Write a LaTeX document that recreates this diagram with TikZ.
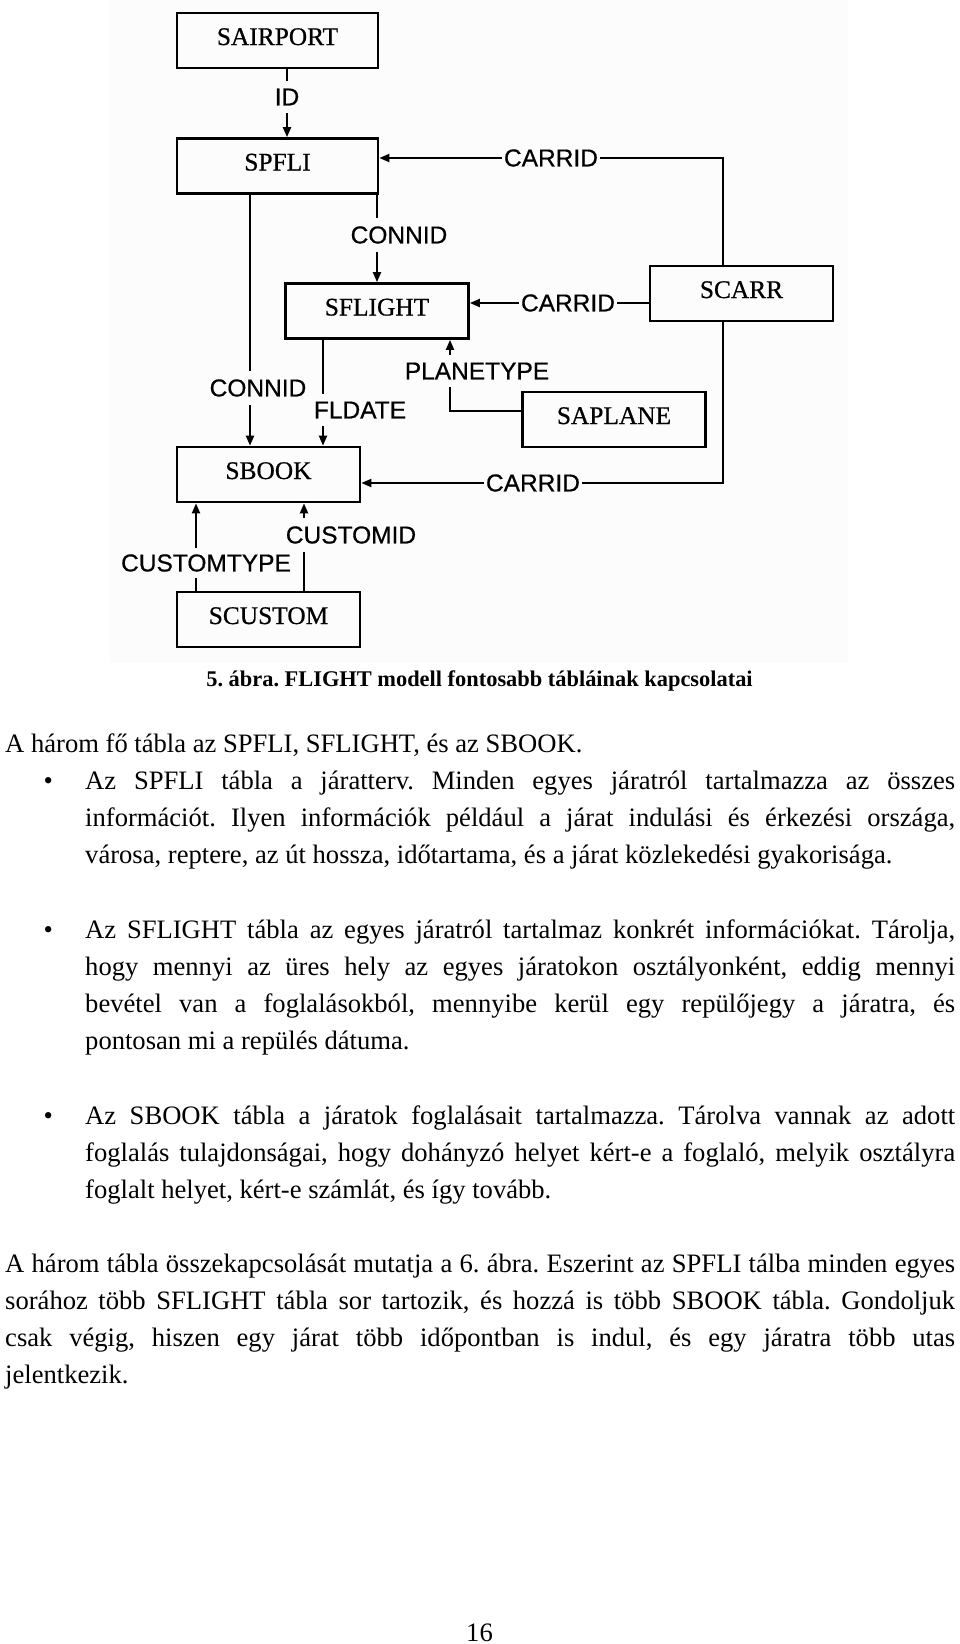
\documentclass[tikz,border=0pt]{standalone}
\usepackage{fontspec}
\setmainfont{Liberation Serif}
\newfontfamily\arialf[FakeBold=0.6]{Liberation Sans}
\newfontfamily\boxf[FakeBold=0.6]{Liberation Serif}
\usetikzlibrary{arrows.meta}
\pgfdeclarelayer{back}
\pgfdeclarelayer{lines}
\pgfsetlayers{back,lines,main}
\definecolor{figbg}{gray}{0.99}
\begin{document}
\frenchspacing
\begin{tikzpicture}[x=1pt,y=-1pt,
 tbl/.style={draw, line width=2.7pt, minimum width=183pt, minimum height=55pt, inner sep=0pt,
   font=\boxf\fontsize{25.4}{30}\selectfont, text height=17pt, text depth=8pt},
 widetbl/.style={tbl, minimum width=201pt},
 lbl/.style={fill=figbg, inner xsep=2pt, inner ysep=8pt, font=\arialf\fontsize{24.5}{29}\selectfont},
 conn/.style={line width=2pt, -{Triangle[length=10pt,width=8pt]}},
 body/.style={anchor=base west, inner sep=0pt, font=\fontsize{26.6}{32}\selectfont},
 bul/.style={anchor=base west, inner sep=0pt, font=\fontsize{26.6}{32}\selectfont},
]
\useasboundingbox (0,0) rectangle (960,1644);
\begin{pgfonlayer}{back}
\fill[white] (0,0) rectangle (960,1644);
\fill[figbg] (110,0) rectangle (848,663);
\end{pgfonlayer}

% tables
\node[widetbl] (sairport) at (277.5,40.5) {SAIRPORT};
\node[widetbl] (spfli) at (277.5,166) {SPFLI};
\node[tbl] (sflight) at (377,311) {SFLIGHT};
\node[tbl] (scarr) at (741.5,293.5) {SCARR};
\node[tbl] (saplane) at (614,419.5) {SAPLANE};
\node[tbl] (sbook) at (268.5,474.5) {SBOOK};
\node[tbl] (scustom) at (268.5,619.5) {SCUSTOM};

% labels
\node[lbl] (id) at (287,97) {ID};
\node[lbl] (carr1) at (551,158) {CARRID};
\node[lbl] (conn1) at (399,235) {CONNID};
\node[lbl] (carr2) at (568,303) {CARRID};
\node[lbl] (conn2) at (258,388) {CONNID};
\node[lbl] (fld) at (360,410) {FLDATE};
\node[lbl] (plt) at (477,371) {PLANETYPE};
\node[lbl] (carr3) at (533,483) {CARRID};
\node[lbl] (cid) at (351,535) {CUSTOMID};
\node[lbl, inner ysep=6pt] (ctype) at (206,563) {CUSTOMTYPE};

\coordinate (xa) at (250,0);
\coordinate (xf) at (323,0);
\coordinate (xp) at (450,411);
\coordinate (xc) at (723,0);
\coordinate (xt) at (196,0);
\coordinate (xi) at (304,0);

\begin{pgfonlayer}{lines}
\draw[conn] (sairport.south -| id) -- (spfli.north -| id);
\draw[conn] (scarr.north -| xc) |- (spfli.east |- carr1);
\draw[conn] (spfli.south -| sflight.north) -- (sflight.north);
\draw[conn] (scarr.west |- carr2) -- (sflight.east |- carr2);
\draw[conn] (spfli.south -| xa) -- (sbook.north -| xa);
\draw[conn] (sflight.south -| xf) -- (sbook.north -| xf);
\draw[conn] (saplane.west |- xp) -- (xp) -- (sflight.south -| xp);
\draw[conn] (scarr.south -| xc) |- (sbook.east |- carr3);
\draw[conn] (scustom.north -| xt) -- (sbook.south -| xt);
\draw[conn] (scustom.north -| xi) -- (sbook.south -| xi);
\end{pgfonlayer}

% caption
\node[anchor=base, inner sep=0pt, font=\bfseries\fontsize{22.4}{27}\selectfont] (cap) at (479.5,686)
  {5. ábra. FLIGHT modell fontosabb tábláinak kapcsolatai};

% body text
\node[body] (t0) at (5,752) {A három fő tábla az SPFLI, SFLIGHT, és az SBOOK.};
\node[bul] (b1) at (43.5,789) {•};
\node[body] (t1) at (85,789) {\makebox[870pt][s]{Az SPFLI tábla a járatterv. Minden egyes járatról tartalmazza az összes}};
\node[body] (t2) at (85,826) {\makebox[870pt][s]{információt. Ilyen információk például a járat indulási és érkezési országa,}};
\node[body] (t3) at (85,863) {városa, reptere, az út hossza, időtartama, és a járat közlekedési gyakorisága.};
\node[bul] (b2) at (43.5,938) {•};
\node[body] (t4) at (85,938) {\makebox[870pt][s]{Az SFLIGHT tábla az egyes járatról tartalmaz konkrét információkat. Tárolja,}};
\node[body] (t5) at (85,975) {\makebox[870pt][s]{hogy mennyi az üres hely az egyes járatokon osztályonként, eddig mennyi}};
\node[body] (t6) at (85,1012) {\makebox[870pt][s]{bevétel van a foglalásokból, mennyibe kerül egy repülőjegy a járatra, és}};
\node[body] (t7) at (85,1049) {pontosan mi a repülés dátuma.};
\node[bul] (b3) at (43.5,1124) {•};
\node[body] (t8) at (85,1124) {\makebox[870pt][s]{Az SBOOK tábla a járatok foglalásait tartalmazza. Tárolva vannak az adott}};
\node[body] (t9) at (85,1161) {\makebox[870pt][s]{foglalás tulajdonságai, hogy dohányzó helyet kért-e a foglaló, melyik osztályra}};
\node[body] (t10) at (85,1198) {foglalt helyet, kért-e számlát, és így tovább.};
\node[body] (t11) at (5,1272) {\makebox[950pt][s]{A három tábla összekapcsolását mutatja a 6. ábra. Eszerint az SPFLI tálba minden egyes}};
\node[body] (t12) at (5,1309) {\makebox[950pt][s]{sorához több SFLIGHT tábla sor tartozik, és hozzá is több SBOOK tábla. Gondoljuk}};
\node[body] (t13) at (5,1346) {\makebox[950pt][s]{csak végig, hiszen egy járat több időpontban is indul, és egy járatra több utas}};
\node[body] (t14) at (5,1383) {jelentkezik.};
\node[anchor=base, inner sep=0pt, font=\fontsize{26.6}{32}\selectfont] (pg) at (479.5,1641) {16};
\end{tikzpicture}
\end{document}
